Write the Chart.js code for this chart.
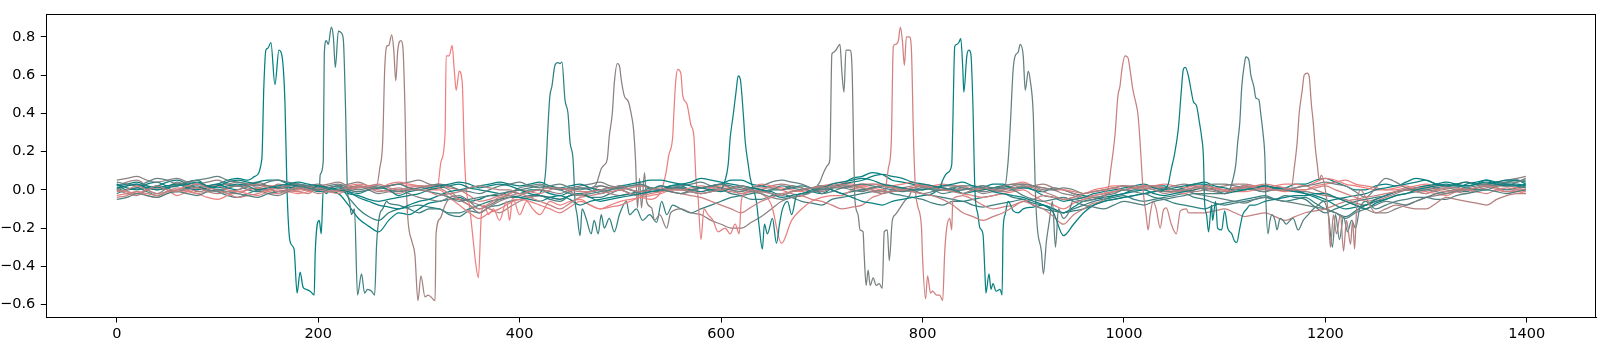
<!DOCTYPE html>
<html>
<head>
<meta charset="utf-8">
<script src="https://cdn.jsdelivr.net/npm/chart.js@4.4.0/dist/chart.umd.min.js"></script>
<style>
  body { margin: 0; background: #fff; }
  canvas { display: block; }
</style>
</head>
<body>
<canvas id="traces" width="1605" height="346"></canvas>
<script>
// quiet part of every trace is sampled every 10 steps (last sample at 1399)
const gridX = [];
for (let x = 0; x < 1400; x += 10) gridX.push(x);
gridX.push(1399);

const xTicks = [0, 200, 400, 600, 800, 1000, 1200, 1400];
const yTicks = [-0.6, -0.4, -0.2, 0.0, 0.2, 0.4, 0.6, 0.8];

// red channel of each trace (green/blue stay 128: teal -> lightcoral)
const lineReds = [0, 64, 165, 240, 50, 140, 232, 15, 120, 210, 8, 100, 200, 12, 80, 180];

// baseline values on gridX, one row per 100 steps (values inside a pulse window are unused)
const base01 = [0.03,0.0,0.01,0.03,0.04,0.02,0.02,0.04,0.05,0.02,
  0.03,0.05,0.06,0.05,0,0,0,0,0,0,
  0,-0.01,-0.02,-0.08,-0.15,-0.19,-0.22,-0.16,-0.12,-0.13,
  -0.1,-0.07,-0.06,-0.05,-0.04,-0.06,-0.05,-0.03,-0.03,-0.01,
  -0.02,0.0,0.0,-0.02,-0.03,-0.01,0.01,0.0,-0.02,0.0,
  0.02,0.0,-0.01,0.01,0.0,0.02,0.02,0.0,0.01,0.02,
  0.03,0.05,0.05,0.03,0.02,0.01,0.0,0.02,0.01,-0.01,
  -0.02,0.01,0.03,0.06,0.07,0.09,0.08,0.05,0.04,0.03,
  0.02,0.0,0.0,0.01,-0.02,0.0,0.01,0.03,0.03,0.01,
  0.02,0.0,-0.01,0.01,0.0,-0.02,-0.03,-0.04,-0.05,-0.03,
  -0.02,0.0,0.0,0.02,0.02,0.0,0.01,0.03,0.03,0.01,
  0.0,0.01,0.02,0.0,-0.01,0.01,0.01,0.03,0.03,0.05,
  0.06,0.04,0.02,0.0,0.0,0.02,0.03,0.02,0.04,0.06,
  0.05,0.03,0.02,0.01,0.03,0.04,0.05,0.03,0.04,0.05, 0.03];
const base02 = [-0.02,0.0,0.01,-0.01,-0.03,-0.01,0.0,0.01,0.02,0.0,
  -0.01,-0.03,-0.04,-0.02,0.0,0.01,-0.02,0.0,0.01,0.0,
  0.0,0,0,0,0,0,0,-0.07,-0.08,-0.1,
  -0.12,-0.1,-0.1,-0.13,-0.14,-0.11,-0.12,-0.09,-0.08,-0.06,
  -0.05,-0.04,-0.03,-0.05,-0.06,-0.03,-0.02,-0.04,-0.04,-0.02,
  0.0,-0.02,-0.03,-0.01,-0.01,0.01,0.01,-0.01,-0.02,-0.01,
  0.0,-0.02,-0.03,-0.05,-0.05,-0.03,-0.02,-0.04,-0.06,-0.07,
  -0.08,-0.05,-0.04,-0.03,-0.02,-0.01,0.0,-0.02,-0.03,-0.04,
  -0.05,-0.07,-0.08,-0.06,-0.06,-0.08,-0.09,-0.08,-0.07,-0.06,
  -0.05,-0.08,-0.1,-0.11,-0.12,-0.1,-0.08,-0.06,-0.05,-0.04,
  -0.03,-0.05,-0.06,-0.05,-0.04,-0.03,-0.02,-0.04,-0.05,-0.07,
  -0.08,-0.07,-0.06,-0.05,-0.04,-0.05,-0.03,-0.04,-0.05,-0.09,
  -0.12,-0.1,-0.08,-0.06,-0.05,-0.04,-0.03,-0.01,0.0,-0.01,
  -0.02,0.0,0.01,0.0,-0.01,0.01,0.02,0.01,0.0,0.01, 0.02];
const base03 = [0.02,0.04,0.05,0.02,0.0,0.01,0.03,0.02,-0.01,0.0,
  0.02,0.03,0.04,0.03,0.01,0.0,0.03,0.02,0.0,0.01,
  0.02,0.03,0.04,0.02,0.01,0.02,0,0,0,0,
  0,0,0,0,-0.05,-0.06,-0.08,-0.1,-0.12,-0.09,
  -0.06,-0.04,-0.03,-0.04,-0.05,-0.03,-0.02,-0.01,0.0,-0.02,
  -0.03,-0.02,-0.01,0.0,0.02,0.01,0.0,-0.01,-0.02,-0.01,
  0.01,0.0,-0.02,-0.01,0.0,0.02,0.03,0.02,0.01,-0.01,
  -0.01,0.01,0.02,0.01,0.0,-0.01,-0.02,0.0,0.01,0.02,
  0.03,0.02,0.01,0.0,0.0,0.01,0.02,0.0,-0.01,0.0,
  0.01,0.02,0.03,0.01,0.0,-0.02,-0.04,-0.03,-0.02,-0.01,
  0.0,0.01,0.02,0.01,0.01,0.0,-0.01,-0.01,0.0,0.01,
  0.02,0.03,0.03,0.02,0.01,0.0,0.0,0.01,0.02,0.0,
  -0.02,-0.04,-0.05,-0.07,-0.08,-0.06,-0.04,-0.02,0.0,0.01,
  0.02,0.01,0.0,-0.01,-0.02,0.0,0.01,0.02,0.03,0.02, 0.01];
const base04 = [-0.03,-0.02,-0.01,-0.03,-0.04,-0.02,0.0,-0.01,-0.02,-0.04,
  -0.05,-0.03,-0.01,-0.02,-0.03,-0.01,0.0,-0.01,-0.02,-0.01,
  0.0,0.01,0.02,0.0,-0.01,0.0,0.01,0.02,0.03,0.02,
  0.02,0.01,0,0,0,0,0,0,0,0,
  0,0,0,-0.06,-0.08,-0.06,-0.05,-0.08,-0.1,-0.08,
  -0.06,-0.05,-0.04,-0.03,-0.02,0.0,0.01,0.0,-0.01,0.01,
  0.02,0.01,0.0,0.01,0.03,0.02,0.01,0.0,-0.01,0.01,
  0.02,0.03,0.04,0.03,0.02,0.01,0.0,0.02,0.03,0.04,
  0.01,0.02,0.03,0.02,0.02,0.0,0.0,0.01,0.02,0.03,
  0.04,0.02,0.01,0.0,0.0,-0.01,-0.02,0.0,0.01,0.02,
  0.02,0.01,0.0,0.02,0.03,0.02,0.01,0.02,0.02,0.01,
  0.0,-0.01,-0.01,0.0,0.01,0.02,0.03,0.03,0.02,0.04,
  0.06,0.05,0.03,0.02,0.01,0.0,0.0,0.01,0.02,0.0,
  -0.01,-0.02,-0.03,-0.01,0.0,0.01,0.02,0.0,-0.01,-0.01, -0.02];
const base05 = [0.01,-0.01,-0.02,0.0,0.02,0.01,-0.01,0.01,0.03,0.02,
  0.0,0.01,0.02,0.0,-0.01,0.0,0.01,0.02,0.03,0.02,
  0.0,0.01,0.02,-0.04,-0.1,-0.14,-0.16,-0.12,-0.1,-0.09,
  -0.08,-0.09,-0.1,-0.12,-0.12,-0.1,-0.08,-0.06,-0.05,-0.04,
  -0.04,-0.03,-0.02,0,0,0,0,0,0,0,
  0,0,0,0,0,0,0,-0.12,-0.1,-0.08,
  -0.06,-0.04,-0.03,-0.02,-0.01,0.0,0.0,0.01,0.02,0.01,
  0.01,0.0,-0.02,-0.01,0.0,0.01,0.02,0.01,0.01,0.0,
  -0.02,-0.03,-0.04,-0.05,-0.06,-0.05,-0.04,-0.03,-0.02,-0.04,
  -0.05,-0.07,-0.08,-0.1,-0.12,-0.11,-0.1,-0.08,-0.06,-0.05,
  -0.04,-0.03,-0.02,-0.04,-0.05,-0.07,-0.08,-0.09,-0.1,-0.08,
  -0.07,-0.06,-0.05,-0.04,-0.03,-0.05,-0.06,-0.05,-0.04,-0.07,
  -0.1,-0.12,-0.14,-0.11,-0.08,-0.06,-0.05,-0.03,-0.02,-0.01,
  0.0,0.01,0.02,0.02,0.01,0.0,0.0,0.02,0.03,0.02, 0.01];
const base06 = [0.05,0.06,0.07,0.05,0.04,0.05,0.06,0.04,0.03,0.04,
  0.05,0.03,0.02,0.03,0.04,0.02,0.01,0.02,0.03,0.01,
  0.0,0.01,0.02,0.03,0.04,0.02,0.01,0.02,0.03,0.04,
  0.05,0.03,0.02,0.0,-0.05,-0.08,-0.12,-0.09,-0.06,-0.04,
  -0.03,-0.01,0.0,-0.01,-0.02,0.0,0.01,0.01,0,0,
  0,0,0,0,0,0,-0.1,-0.12,-0.13,-0.16,
  -0.18,-0.2,-0.2,-0.17,-0.14,-0.1,-0.06,-0.04,-0.03,-0.01,
  0.0,0.01,0.02,0.02,0.01,0.0,-0.02,-0.01,0.0,0.01,
  0.02,0.01,0.0,0.0,0.01,0.0,-0.02,-0.01,0.0,0.02,
  0.03,0.02,0.01,0.0,-0.02,-0.03,-0.05,-0.04,-0.03,-0.01,
  0.0,0.01,0.02,0.02,0.01,0.02,0.03,0.02,0.0,-0.01,
  -0.02,0.0,0.01,0.02,0.02,0.01,0.0,-0.01,-0.01,-0.02,
  -0.03,-0.04,-0.06,-0.08,-0.1,-0.12,-0.12,-0.1,-0.08,-0.06,
  -0.04,-0.03,-0.02,-0.01,0.0,0.01,0.03,0.04,0.05,0.06, 0.07];
const base07 = [0.0,-0.01,-0.02,0.0,0.01,0.0,-0.03,-0.01,0.0,0.02,
  0.02,0.0,-0.01,0.0,0.01,-0.01,-0.02,-0.01,0.0,0.01,
  0.02,0.01,0.0,0.02,0.03,0.02,0.01,0.03,0.04,0.03,
  0.02,0.0,0.0,-0.04,-0.08,-0.12,-0.15,-0.12,-0.1,-0.07,
  -0.05,-0.06,-0.08,-0.1,-0.12,-0.09,-0.06,-0.08,-0.1,-0.09,
  -0.08,-0.06,-0.04,-0.05,0,0,0,0,0,0,
  0,0,0,-0.01,-0.02,-0.08,-0.28,-0.16,-0.1,-0.06,
  -0.04,-0.03,-0.03,0.0,0.02,0.03,0.03,0.02,0.0,0.01,
  0.02,0.02,0.01,0.0,-0.02,-0.03,-0.04,-0.03,-0.02,-0.01,
  0.0,-0.03,-0.06,-0.08,-0.1,-0.07,-0.05,-0.03,-0.02,-0.01,
  0.0,0.01,0.02,0.01,0.0,-0.01,-0.02,0.0,0.01,0.0,
  0.0,0.01,0.02,0.02,0.01,0.0,-0.01,0.0,0.0,0.02,
  0.03,0.04,0.05,0.03,0.02,0.01,0.0,0.0,0.01,0.02,
  0.03,0.02,0.02,0.03,0.04,0.03,0.03,0.02,0.02,0.01, 0.0];
const base08 = [0.03,0.01,0.0,0.01,0.02,0.04,0.05,0.03,0.01,0.02,
  0.03,0.01,0.0,0.02,0.04,0.05,0.05,0.03,0.02,0.0,
  0.02,0.01,0.0,-0.02,-0.03,-0.05,-0.06,-0.05,-0.04,-0.03,
  -0.02,0.0,0.01,0.02,0.03,0.01,0.0,-0.01,-0.02,-0.03,
  -0.04,-0.05,-0.06,-0.04,-0.03,-0.05,-0.08,-0.06,-0.05,-0.04,
  -0.03,-0.02,-0.01,0.0,0.02,0.01,0.01,0.0,-0.01,0.0,
  0,0,0,0,0,0,0,0,-0.02,-0.01,
  0.01,0.02,0.03,0.04,0.05,0.07,0.08,0.07,0.06,0.04,
  0.03,0.02,0.01,0.0,-0.02,-0.01,0.0,0.01,0.02,0.01,
  0.01,0.0,-0.03,-0.04,-0.06,-0.05,-0.04,-0.02,-0.01,0.0,
  0.01,0.02,0.03,0.01,0.0,0.01,0.02,0.03,0.04,0.02,
  0.01,0.0,0.0,0.01,0.02,0.01,0.01,0.0,-0.02,-0.04,
  -0.06,-0.05,-0.04,-0.03,-0.02,0.0,0.01,0.02,0.03,0.04,
  0.05,0.03,0.02,0.03,0.04,0.03,0.03,0.04,0.05,0.05, 0.04];
const base09 = [0.0,0.02,0.03,0.0,-0.02,0.01,0.04,0.02,0.01,0.0,
  -0.01,0.01,0.02,0.01,0.0,-0.02,-0.03,-0.01,0.01,0.02,
  0.03,0.01,0.0,0.01,0.02,0.0,-0.02,-0.01,0.0,-0.02,
  -0.04,-0.05,-0.06,-0.04,-0.03,-0.06,-0.1,-0.08,-0.05,-0.02,
  0.01,0.02,0.03,0.01,0.0,0.01,0.02,0.03,0.04,0.02,
  0.01,0.02,0.02,0.01,0.0,-0.01,-0.02,-0.01,0.01,0.02,
  0.03,0.01,0.0,-0.01,-0.02,-0.04,-0.05,-0.04,-0.03,-0.01,
  0,0,0,0,0,0,0,0,0,0,
  0.0,0.01,0.02,0.02,0.01,0.0,-0.01,0.0,0.02,0.03,
  0.03,0.02,0.0,0.0,0.01,0.0,-0.02,-0.01,0.0,0.01,
  0.02,0.01,0.01,0.0,-0.01,-0.01,0.0,0.01,0.02,0.03,
  0.03,0.02,0.01,0.0,-0.01,0.0,0.0,0.01,0.02,0.03,
  0.04,0.03,0.02,-0.01,-0.04,0.01,0.06,0.04,0.01,0.0,
  0.0,-0.01,-0.02,0.0,0.01,0.02,0.03,0.02,0.02,0.04, 0.06];
const base10 = [-0.04,-0.03,-0.01,-0.02,-0.03,-0.01,0.01,0.0,-0.02,-0.01,
  0.0,-0.02,-0.04,-0.03,-0.02,0.0,0.01,0.0,-0.01,-0.02,
  0.01,0.0,-0.01,0.0,0.02,0.01,0.0,-0.01,-0.02,0.0,
  0.01,0.02,0.03,0.01,0.0,-0.03,-0.06,-0.05,-0.03,-0.02,
  0.0,-0.01,-0.02,0.0,0.01,0.0,-0.01,-0.01,0.02,0.01,
  0.0,-0.02,-0.03,-0.02,-0.01,0.0,0.0,0.01,0.02,0.01,
  0.0,-0.01,-0.02,0.0,0.01,0.01,0.0,-0.02,-0.03,-0.05,
  -0.06,-0.08,-0.1,-0.09,-0.08,-0.04,-0.02,0,0,0,
  0,0,0,0,-0.03,-0.05,-0.08,-0.1,-0.09,-0.08,
  -0.06,-0.05,-0.03,-0.04,-0.05,-0.04,-0.02,-0.01,0.0,0.01,
  0.0,0.01,0.02,0.02,0.01,0.0,-0.01,0.01,0.02,0.01,
  0.0,0.01,0.01,0.02,0.03,0.02,0.01,0.0,0.0,0.01,
  0.02,0.0,-0.02,-0.04,-0.06,-0.05,-0.03,-0.01,0.0,-0.01,
  -0.02,0.0,0.01,0.01,0.0,-0.01,-0.02,0.0,0.01,0.0, -0.01];
const base11 = [0.02,0.03,0.04,0.02,0.01,0.02,0.03,0.01,0.0,0.01,
  0.02,0.04,0.05,0.04,0.03,0.02,0.01,0.01,0.02,0.01,
  -0.01,0.0,0.01,-0.01,-0.04,-0.06,-0.08,-0.09,-0.1,-0.08,
  -0.06,-0.05,-0.03,-0.01,0.0,0.01,0.02,0.03,0.04,0.03,
  0.02,0.03,0.04,0.02,0.01,0.02,0.03,0.01,0.0,0.01,
  0.02,0.03,0.04,0.05,0.05,0.04,0.03,0.04,0.06,0.05,
  0.04,0.03,0.02,0.01,0.0,-0.01,-0.03,-0.01,0.0,0.01,
  0.02,0.0,-0.02,-0.04,-0.06,-0.07,-0.08,-0.06,-0.05,-0.04,
  -0.03,-0.02,0,0,0,0,0,0,0,0,
  -0.1,-0.09,-0.08,-0.1,-0.12,-0.09,-0.06,-0.05,-0.04,-0.03,
  -0.02,-0.01,0.0,-0.02,-0.03,-0.02,-0.01,0.0,0.01,0.0,
  -0.02,-0.01,0.0,0.01,0.02,0.01,0.0,-0.01,-0.02,-0.03,
  -0.05,-0.08,-0.1,-0.09,-0.08,-0.05,-0.03,-0.01,0.0,0.01,
  0.02,0.03,0.04,0.03,0.02,0.03,0.05,0.04,0.03,0.03, 0.02];
const base12 = [0.04,0.03,0.02,0.04,0.06,0.05,0.03,0.04,0.05,0.06,
  0.07,0.05,0.04,0.03,0.02,0.04,0.05,0.04,0.03,0.02,
  0.01,0.02,0.03,0.01,0.0,0.01,0.02,0.0,-0.01,0.0,
  0.01,0.02,0.03,0.02,0.0,-0.01,-0.02,0.0,0.02,0.03,
  0.04,0.02,0.01,0.02,0.03,0.01,0.0,0.01,0.02,0.01,
  0.01,0.0,-0.02,-0.01,0.0,0.01,0.02,0.03,0.04,0.02,
  0.01,0.0,-0.01,0.01,0.02,0.04,0.05,0.04,0.03,0.01,
  0.0,0.01,0.01,0.0,-0.01,0.01,0.02,0.01,0.0,-0.01,
  -0.02,-0.01,0.0,0.01,0.02,0.02,0.01,0.0,0,0,
  0,0,0,0,0,-0.05,-0.06,-0.05,-0.03,-0.02,
  0.0,-0.01,-0.02,-0.01,0.01,0.0,0.0,-0.02,-0.03,-0.04,
  -0.05,-0.06,-0.07,-0.05,-0.04,-0.05,-0.06,-0.07,-0.08,-0.09,
  -0.1,-0.12,-0.15,-0.12,-0.1,-0.08,-0.06,-0.07,-0.08,-0.06,
  -0.04,-0.02,-0.01,0.0,0.0,0.01,0.02,0.03,0.04,0.04, 0.05];
const base13 = [-0.01,0.0,0.02,0.0,-0.02,-0.01,0.0,0.02,0.03,0.01,
  0.0,-0.02,-0.02,0.0,0.01,0.02,0.02,0.0,-0.01,0.0,
  0.0,-0.01,-0.02,0.0,0.01,0.02,0.03,0.01,0.0,0.01,
  0.02,0.02,0.01,-0.02,-0.05,-0.08,-0.1,-0.07,-0.04,-0.03,
  -0.02,-0.04,-0.06,-0.08,-0.1,-0.07,-0.04,-0.03,-0.02,-0.01,
  0.0,0.01,0.02,0.01,0.0,-0.01,-0.02,-0.03,-0.04,-0.06,
  -0.08,-0.1,-0.12,-0.09,-0.06,-0.04,-0.02,-0.01,0.0,0.01,
  0.02,0.02,0.01,0.02,0.03,0.03,0.02,0.01,0.0,-0.01,
  -0.02,-0.03,-0.05,-0.08,-0.12,-0.14,-0.16,-0.14,-0.12,-0.09,
  -0.06,-0.08,-0.1,-0.14,-0.18,-0.13,-0.1,-0.07,-0.05,0,
  0,0,0,0,0,0,0,-0.12,-0.12,-0.11,
  -0.1,-0.12,-0.14,-0.13,-0.12,-0.14,-0.16,-0.14,-0.12,-0.11,
  -0.1,-0.08,-0.06,-0.05,-0.04,-0.03,-0.02,-0.01,0.0,0.01,
  0.01,0.0,-0.01,0.0,0.0,0.01,0.02,0.01,-0.01,0.0, 0.0];
const base14 = [0.01,0.02,0.03,0.01,0.0,0.01,0.02,0.03,0.04,0.02,
  0.01,0.02,0.03,0.02,0.0,0.01,0.02,0.03,0.04,0.03,
  0.02,0.01,0.0,-0.01,-0.02,0.0,0.01,0.0,-0.03,-0.01,
  0.0,0.01,0.02,0.03,0.04,0.03,0.01,0.02,0.03,0.02,
  0.0,-0.02,-0.03,-0.04,-0.05,-0.03,-0.02,-0.04,-0.06,-0.05,
  -0.04,-0.03,-0.02,-0.01,0.0,0.02,0.03,0.02,0.01,0.0,
  -0.01,0.01,0.02,0.01,0.0,-0.02,-0.04,-0.03,-0.02,0.0,
  0.01,0.03,0.04,0.05,0.06,0.05,0.03,0.02,0.01,0.0,
  0.0,0.01,0.02,0.03,0.04,0.02,0.01,-0.01,-0.02,-0.03,
  -0.04,-0.06,-0.08,-0.12,-0.24,-0.18,-0.12,-0.08,-0.06,-0.05,
  -0.04,-0.03,-0.02,-0.01,0,0,0,0,0,0,
  0,0,0,-0.08,-0.06,-0.05,-0.04,-0.03,-0.03,-0.02,
  -0.02,-0.04,-0.06,-0.08,-0.1,-0.07,-0.05,-0.03,-0.02,0.0,
  0.01,0.02,0.03,0.02,0.02,0.03,0.04,0.03,0.02,0.02, 0.03];
const base15 = [-0.05,-0.04,-0.02,-0.03,-0.04,-0.02,-0.01,-0.02,-0.03,-0.01,
  0.0,-0.01,-0.02,-0.03,-0.04,-0.02,-0.01,0.0,0.02,0.01,
  0.0,0.01,0.02,0.0,-0.01,0.0,0.01,0.02,0.03,0.01,
  0.0,-0.01,-0.02,-0.04,-0.06,-0.05,-0.04,-0.03,-0.02,-0.01,
  0.0,0.01,0.02,0.01,0.0,-0.02,-0.03,-0.02,-0.01,0.0,
  0.01,0.02,0.03,0.01,0.0,-0.01,-0.02,0.0,0.01,0.02,
  0.03,0.02,0.01,0.0,-0.01,0.0,0.02,0.01,0.0,0.01,
  -0.02,-0.01,0.01,0.02,0.03,0.02,0.01,0.0,-0.01,0.0,
  0.01,0.0,-0.02,-0.01,0.0,0.01,0.02,0.01,0.01,0.0,
  -0.03,-0.05,-0.06,-0.05,-0.04,-0.06,-0.08,-0.09,-0.1,-0.08,
  -0.06,-0.07,-0.08,-0.06,-0.05,-0.04,-0.03,-0.02,-0.02,-0.02,
  0,0,0,0,0,0,0,0,0,0,
  0,0,0,0,0,-0.1,-0.08,-0.06,-0.05,-0.04,
  -0.04,-0.05,-0.05,-0.03,-0.02,-0.01,0.0,-0.01,-0.02,-0.01, 0.0];
const base16 = [0.0,-0.02,-0.03,0.0,0.02,0.0,-0.01,0.0,0.01,-0.01,
  -0.02,-0.01,0.0,0.02,0.03,0.01,-0.01,0.0,0.01,0.0,
  -0.02,-0.01,0.0,0.01,0.02,0.01,-0.01,0.0,0.01,0.0,
  0.0,-0.01,-0.03,-0.02,-0.01,0.01,0.02,0.01,0.0,0.0,
  -0.02,-0.01,0.0,0.01,0.01,-0.01,-0.03,-0.01,0.0,0.01,
  0.02,0.0,-0.01,0.0,0.01,0.0,0.0,-0.01,-0.02,-0.01,
  0.0,0.01,0.02,0.0,-0.01,-0.02,-0.03,-0.01,0.0,0.01,
  0.01,0.02,0.03,0.02,0.01,0.0,-0.01,-0.01,0.0,0.01,
  0.02,0.01,0.0,-0.01,-0.02,0.0,0.01,0.0,0.0,0.01,
  0.02,0.01,-0.01,-0.03,-0.05,-0.04,-0.02,-0.01,0.0,0.01,
  0.02,0.02,0.01,0.0,-0.02,-0.01,0.0,0.01,0.01,0.0,
  -0.01,0.0,0.02,0.01,0.0,0.0,0,0,0,0,
  0,0,0,0,0,-0.12,-0.1,-0.08,-0.09,-0.1,
  -0.1,-0.07,-0.04,-0.05,-0.06,-0.07,-0.08,-0.05,-0.03,-0.02, -0.02];

// pulse segments: [x, y]
const pulse01 = [[137,0.07],[144,0.16],[146,0.54],[148,0.73],[150,0.74],[153,0.77],[157,0.55],[161,0.73],[164,0.7],[167,0.45],[169,0.0],[172,-0.27],[176,-0.31],[179,-0.54],[182,-0.43],[185,-0.51],[188,-0.52],[192,-0.53],[196,-0.55],[197,-0.33],[201,-0.16],[203,-0.23],[205,0.0],[208,-0.02]];
const pulse02 = [[201,0.0],[202,0.08],[205,0.15],[206,0.71],[208,0.78],[210,0.76],[213,0.85],[215,0.8],[217,0.64],[220,0.83],[223,0.82],[225,0.78],[227,0.45],[229,0.0],[231,-0.06],[233,-0.13],[236,-0.1],[239,-0.55],[243,-0.44],[246,-0.54],[249,-0.52],[253,-0.53],[256,-0.55],[258,-0.28],[261,-0.13],[264,-0.1],[268,-0.06]];
const pulse03 = [[258,0.02],[261,0.11],[264,0.25],[266,0.63],[268,0.75],[270,0.755],[273,0.81],[275,0.73],[277,0.57],[279,0.73],[282,0.78],[284,0.75],[286,0.45],[288,-0.06],[293,-0.27],[296,-0.34],[299,-0.58],[302,-0.45],[306,-0.56],[309,-0.55],[312,-0.56],[316,-0.58],[317,-0.23],[321,-0.15],[326,-0.08],[330,-0.05]];
const pulse04 = [[318,0.0],[322,0.15],[326,0.3],[327,0.7],[330,0.7],[333,0.755],[335,0.63],[337,0.52],[340,0.62],[343,0.56],[345,0.2],[347,0.0],[350,-0.08],[354,-0.27],[356,-0.37],[359,-0.46],[362,-0.13],[365,-0.08],[369,-0.13],[374,-0.1],[380,-0.16],[387,-0.06],[390,-0.16],[393,-0.04],[400,-0.13],[407,-0.06],[413,-0.1],[420,-0.13]];
const pulse05 = [[421,-0.01],[423,0.0],[426,0.11],[428,0.32],[430,0.49],[432,0.54],[435,0.65],[438,0.665],[440,0.66],[442,0.667],[445,0.47],[448,0.4],[450,0.25],[453,0.16],[455,-0.06],[457,-0.13],[460,-0.24],[462,-0.1],[466,-0.15],[471,-0.23],[474,-0.16],[478,-0.23],[481,-0.13],[484,-0.2],[489,-0.15],[494,-0.22],[499,-0.13],[506,-0.06],[509,-0.13],[516,-0.1],[522,-0.16],[529,-0.13],[536,-0.17],[541,-0.06],[546,-0.13],[552,-0.08],[560,-0.1]];
const pulse06 = [[476,0.03],[478,0.06],[481,0.11],[484,0.13],[487,0.16],[489,0.28],[492,0.4],[494,0.56],[497,0.66],[499,0.65],[501,0.57],[504,0.49],[508,0.46],[511,0.39],[513,0.32],[515,0.16],[517,-0.095],[519,0.06],[521,-0.095],[524,0.09],[526,-0.06],[531,-0.095],[534,-0.16],[539,-0.13],[546,-0.2],[550,-0.12]];
const pulse07 = [[540,-0.01],[545,0.08],[548,0.18],[552,0.28],[553,0.39],[555,0.57],[557,0.63],[560,0.61],[562,0.49],[566,0.45],[570,0.34],[573,0.28],[575,0.06],[577,-0.03],[580,-0.26],[583,-0.1],[587,-0.13],[592,-0.16],[597,-0.22],[604,-0.2],[609,-0.23],[614,-0.18],[618,-0.23],[620,-0.06],[622,-0.03]];
const pulse08 = [[596,0.0],[599,0.0],[604,0.05],[607,0.13],[609,0.27],[612,0.39],[615,0.52],[617,0.595],[619,0.58],[622,0.4],[624,0.25],[627,0.13],[629,0.06],[635,-0.06],[638,-0.2],[641,-0.31],[643,-0.18],[646,-0.23],[651,-0.15],[655,-0.28],[658,-0.18],[661,-0.1],[666,-0.06],[670,-0.13],[675,-0.03]];
const pulse09 = [[698,0.04],[701,0.08],[706,0.13],[708,0.16],[710,0.71],[712,0.72],[714,0.73],[718,0.76],[720,0.61],[722,0.51],[724,0.73],[728,0.73],[730,0.64],[732,0.11],[733,-0.06],[736,-0.13],[738,-0.21],[741,-0.22],[742,-0.33],[744,-0.5],[746,-0.42],[748,-0.5],[751,-0.46],[754,-0.5],[757,-0.49],[760,-0.515],[762,-0.22],[765,-0.21],[767,-0.37],[770,-0.16],[773,-0.13],[777,-0.1],[782,-0.06],[787,-0.03],[790,0.0]];
const pulse10 = [[763,0.0],[766,0.11],[769,0.25],[771,0.75],[773,0.76],[776,0.78],[778,0.85],[780,0.78],[782,0.65],[784,0.8],[787,0.8],[789,0.73],[791,0.28],[793,0.0],[795,-0.08],[799,-0.2],[800,-0.35],[803,-0.57],[805,-0.45],[808,-0.54],[810,-0.53],[814,-0.55],[817,-0.55],[820,-0.58],[822,-0.33],[824,-0.2],[827,-0.15],[829,-0.21],[830,-0.06],[832,-0.04]];
const pulse11 = [[818,0.02],[820,0.05],[825,0.09],[829,0.13],[830,0.32],[832,0.75],[834,0.76],[836,0.77],[838,0.79],[840,0.63],[841,0.51],[844,0.7],[846,0.73],[848,0.71],[850,0.45],[852,0.0],[855,-0.13],[857,-0.2],[860,-0.23],[862,-0.44],[863,-0.54],[866,-0.44],[868,-0.52],[870,-0.49],[873,-0.53],[877,-0.52],[879,-0.55],[880,-0.21],[882,-0.13],[885,-0.06],[890,-0.11],[895,-0.12]];
const pulse12 = [[880,0.01],[881,0.0],[885,0.15],[887,0.32],[890,0.63],[892,0.7],[895,0.72],[897,0.76],[900,0.7],[902,0.52],[905,0.62],[907,0.57],[910,0.39],[912,0.0],[914,-0.2],[918,-0.32],[920,-0.44],[923,-0.27],[926,-0.16],[929,-0.06],[932,-0.3],[935,-0.1],[940,-0.15],[945,-0.12]];
const pulse13 = [[982,0.0],[984,0.0],[987,0.11],[991,0.28],[994,0.49],[996,0.54],[998,0.63],[1001,0.7],[1004,0.69],[1006,0.63],[1009,0.52],[1012,0.45],[1014,0.39],[1016,0.25],[1019,0.0],[1022,-0.13],[1024,-0.21],[1026,-0.13],[1029,-0.06],[1032,-0.1],[1036,-0.2],[1039,-0.11],[1042,-0.095],[1047,-0.18],[1052,-0.23],[1056,-0.11],[1062,-0.1],[1064,-0.12]];
const pulse14 = [[1040,0.0],[1044,0.03],[1047,0.11],[1050,0.18],[1054,0.32],[1057,0.52],[1059,0.63],[1061,0.64],[1064,0.595],[1067,0.51],[1069,0.46],[1072,0.44],[1075,0.35],[1077,0.28],[1079,0.16],[1080,-0.06],[1082,-0.13],[1084,-0.22],[1087,-0.08],[1088,-0.16],[1091,-0.06],[1093,-0.2],[1097,-0.21],[1100,-0.11],[1103,-0.2],[1107,-0.23],[1110,-0.27],[1112,-0.275],[1115,-0.2],[1118,-0.13],[1122,-0.1],[1125,-0.08]];
const pulse15 = [[1100,-0.02],[1105,0.0],[1108,0.05],[1111,0.13],[1113,0.25],[1115,0.35],[1117,0.54],[1120,0.67],[1121,0.695],[1124,0.68],[1126,0.6],[1129,0.54],[1131,0.48],[1134,0.47],[1136,0.39],[1138,0.3],[1140,0.16],[1141,-0.06],[1143,-0.23],[1145,-0.16],[1147,-0.13],[1150,-0.16],[1152,-0.21],[1155,-0.15],[1158,-0.16],[1161,-0.18],[1165,-0.16],[1168,-0.15],[1173,-0.21],[1178,-0.16],[1183,-0.13],[1188,-0.1],[1193,-0.08],[1198,-0.06],[1203,-0.13],[1207,-0.3],[1210,-0.13],[1214,-0.26],[1218,-0.14],[1222,-0.22],[1226,-0.16],[1230,-0.2],[1234,-0.1],[1240,-0.06]];
const pulse16 = [[1160,0.0],[1166,0.0],[1169,0.11],[1172,0.25],[1174,0.4],[1177,0.52],[1179,0.6],[1182,0.61],[1184,0.59],[1186,0.454],[1188,0.35],[1190,0.22],[1192,0.13],[1194,0.05],[1196,0.077],[1200,0.0],[1203,-0.13],[1205,-0.3],[1208,-0.13],[1211,-0.23],[1215,-0.13],[1218,-0.32],[1221,-0.16],[1225,-0.285],[1227,-0.16],[1229,-0.31],[1231,-0.1],[1235,0.0],[1240,-0.04]];

const bases = [base01,base02,base03,base04,base05,base06,base07,base08,base09,base10,base11,base12,base13,base14,base15,base16];
const pulses = [pulse01,pulse02,pulse03,pulse04,pulse05,pulse06,pulse07,pulse08,pulse09,pulse10,pulse11,pulse12,pulse13,pulse14,pulse15,pulse16];

function buildTrace(base, pulse) {
  const a = pulse[0][0], b = pulse[pulse.length - 1][0];
  const pts = [];
  gridX.forEach((x, i) => { if (x < a || x > b) pts.push({x: x, y: base[i]}); });
  pulse.forEach(p => pts.push({x: p[0], y: p[1]}));
  pts.sort((p, q) => p.x - q.x);
  return pts;
}

const datasets = bases.map((b, i) => ({
  data: buildTrace(b, pulses[i]),
  borderColor: 'rgb(' + lineReds[i] + ',128,128)',
  borderWidth: 1.25,
  pointRadius: 0,
  cubicInterpolationMode: 'monotone',
  fill: false,
  order: bases.length - i   // later traces on top, like matplotlib
}));

// full box around the plot area
const frame = {
  id: 'frame',
  afterDraw(chart) {
    const a = chart.chartArea, c = chart.ctx;
    c.save();
    c.strokeStyle = '#000';
    c.lineWidth = 1;
    c.strokeRect(Math.round(a.left) + 0.5, Math.round(a.top) + 0.5,
      Math.round(a.right - a.left) - 1, Math.round(a.bottom - a.top));
    c.restore();
  }
};

const tickFont = { family: 'DejaVu Sans', size: 14.5, weight: 'normal' };

new Chart(document.getElementById('traces'), {
  type: 'line',
  data: { datasets: datasets },
  options: {
    responsive: false,
    animation: false,
    layout: { padding: { left: 0, top: 9.3, right: 8.7, bottom: 0 } },
    plugins: { legend: { display: false }, tooltip: { enabled: false } },
    scales: {
      x: {
        type: 'linear',
        min: -70, max: 1469,
        afterBuildTicks: s => { s.ticks = xTicks.map(v => ({ value: v })); },
        afterFit: s => { s.height = 29; },
        ticks: { autoSkip: false, maxRotation: 0, padding: 3, color: '#000', font: tickFont,
          callback: v => String(v) },
        grid: { drawOnChartArea: false, tickLength: 5.5, color: '#000', lineWidth: 1 },
        border: { display: true, color: '#000', width: 1 }
      },
      y: {
        min: -0.665, max: 0.918,
        afterBuildTicks: s => { s.ticks = yTicks.map(v => ({ value: v })); },
        afterFit: s => { s.width = 46.3; },
        ticks: { autoSkip: false, padding: 5.5, color: '#000', font: tickFont,
          callback: v => v.toFixed(1).replace('-', '\u2212') },
        grid: { drawOnChartArea: false, tickLength: 5.5, color: '#000', lineWidth: 1 },
        border: { display: true, color: '#000', width: 1 }
      }
    }
  },
  plugins: [frame]
});
</script>
</body>
</html>
